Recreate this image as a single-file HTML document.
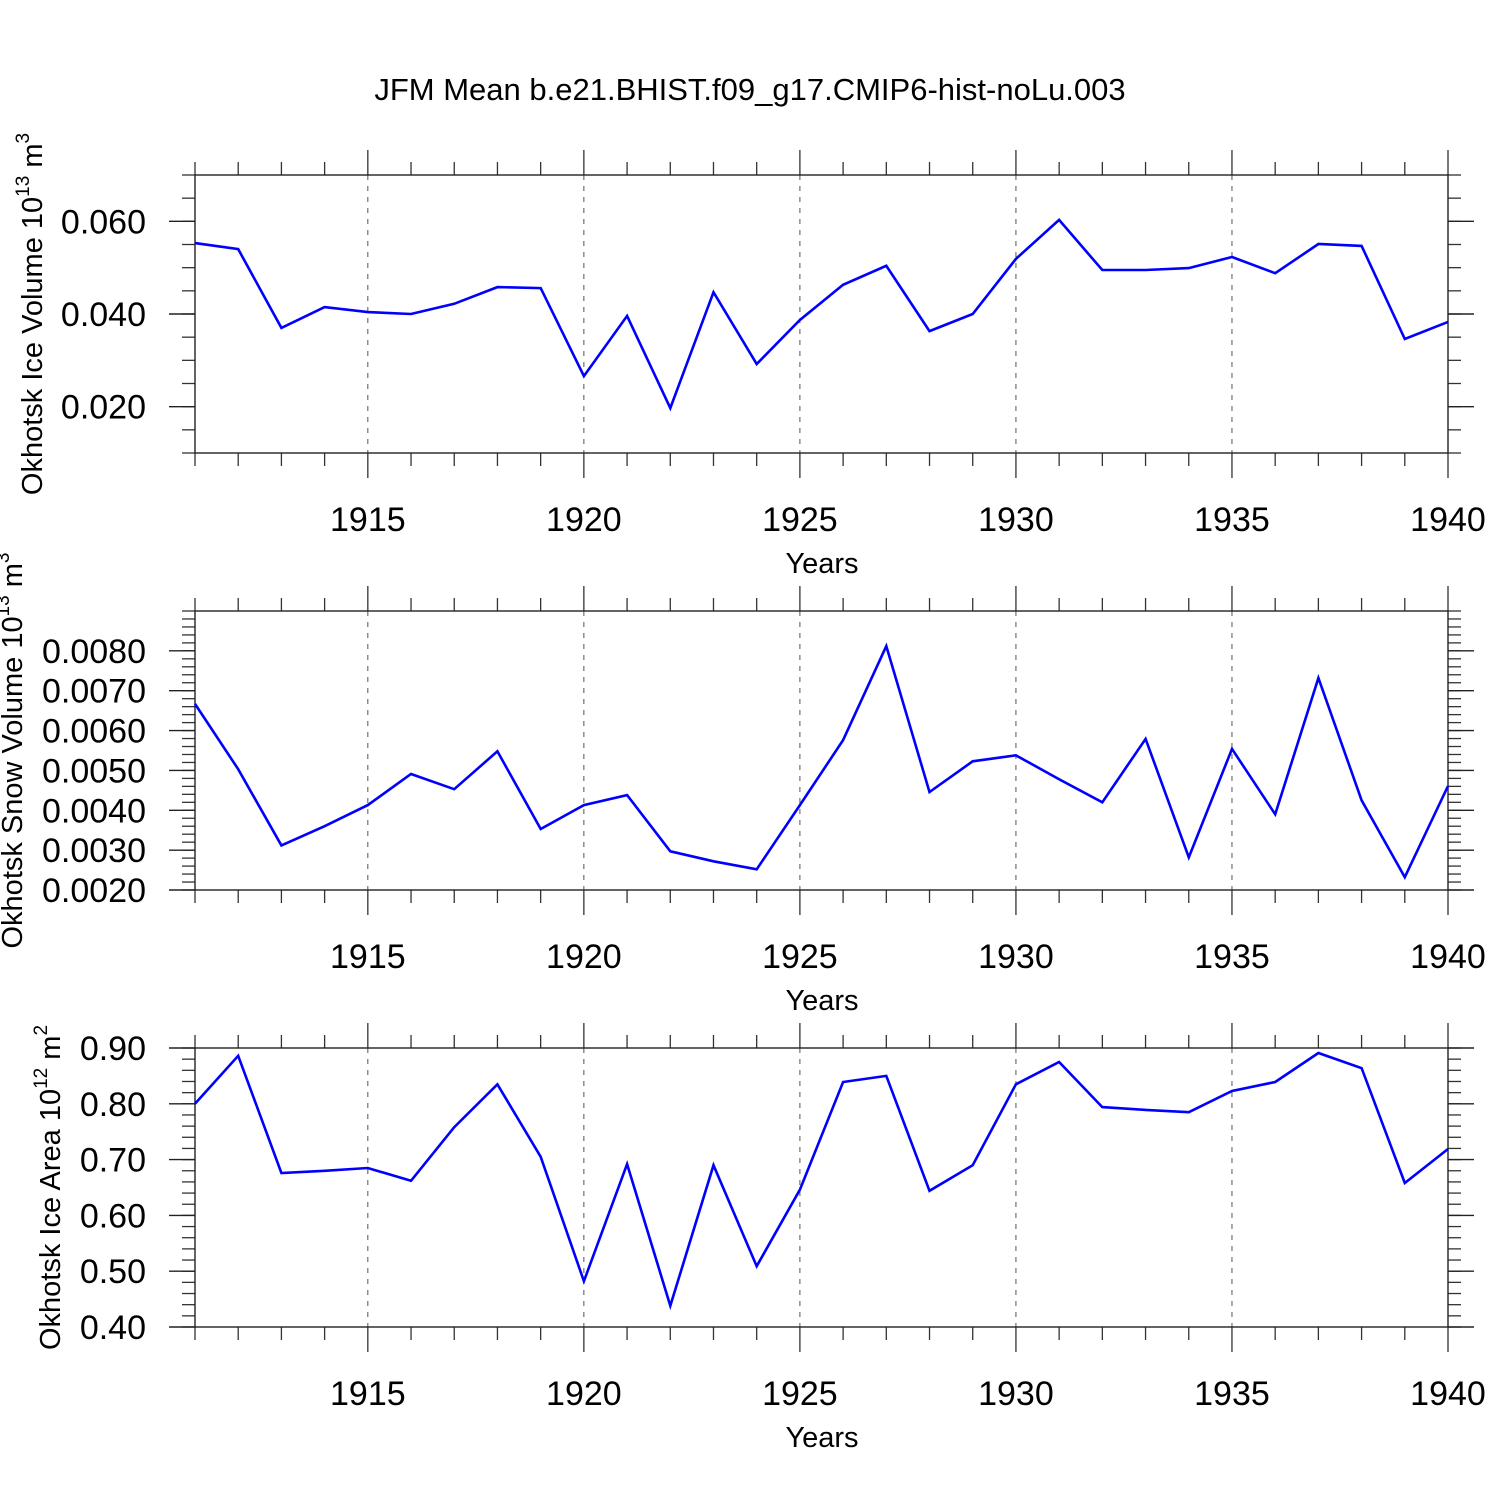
<!DOCTYPE html>
<html><head><meta charset="utf-8"><style>
html,body{margin:0;padding:0;background:#fff}
svg{display:block;font-family:"Liberation Sans",Arial,sans-serif}
</style></head><body>
<svg id="chart" width="1500" height="1500" viewBox="0 0 1500 1500" xmlns="http://www.w3.org/2000/svg">
<text x="750" y="100" font-size="31" text-anchor="middle">JFM Mean b.e21.BHIST.f09_g17.CMIP6-hist-noLu.003</text>
</svg>
<script>
const years = [1911,1912,1913,1914,1915,1916,1917,1918,1919,1920,1921,1922,1923,1924,1925,1926,1927,1928,1929,1930,1931,1932,1933,1934,1935,1936,1937,1938,1939,1940];
const iceVolume = [0.0553,0.0540,0.0370,0.0415,0.0404,0.0400,0.0422,0.0458,0.0456,0.0266,0.0396,0.0197,0.0447,0.0292,0.0387,0.0463,0.0504,0.0363,0.0400,0.0519,0.0603,0.0495,0.0495,0.0499,0.0523,0.0488,0.0551,0.0547,0.0346,0.0383];
const snowVolume = [0.00667,0.00503,0.00312,0.00360,0.00413,0.00491,0.00453,0.00548,0.00353,0.00413,0.00438,0.00297,0.00272,0.00252,0.00413,0.00576,0.00812,0.00446,0.00523,0.00538,0.00478,0.00420,0.00579,0.00282,0.00554,0.00390,0.00732,0.00425,0.00232,0.00461];
const iceArea = [0.800,0.886,0.676,0.680,0.685,0.662,0.758,0.835,0.705,0.482,0.692,0.438,0.690,0.509,0.646,0.839,0.850,0.644,0.690,0.835,0.875,0.794,0.789,0.785,0.823,0.839,0.891,0.864,0.658,0.719];
const xTickLabels = ["1915","1920","1925","1930","1935","1940"];
const iceVolTicks = ["0.020","0.040","0.060"];
const snowTicks = ["0.0020","0.0030","0.0040","0.0050","0.0060","0.0070","0.0080"];
const areaTicks = ["0.40","0.50","0.60","0.70","0.80","0.90"];

const NS="http://www.w3.org/2000/svg";
const svg=document.getElementById('chart');
function mk(tag,attrs,parent){const e=document.createElementNS(NS,tag);for(const k in attrs)e.setAttribute(k,attrs[k]);(parent||svg).appendChild(e);return e;}
const X0=195,X1=1448,Y_MIN=1911,Y_MAX=1940;
const xs=y=>X0+(y-Y_MIN)/(Y_MAX-Y_MIN)*(X1-X0);

function panel(id,top,bot,vmin,vmax,minorStep,ticks,data,titleLines,titleX){
  const g=mk('g',{});
  
  
  const ys=v=>bot-(v-vmin)/(vmax-vmin)*(bot-top);
  for(let y=1915;y<=1935;y+=5){
    const l=mk('line',{x1:xs(y),x2:xs(y),y1:top,y2:bot,stroke:'#555','stroke-width':1,'stroke-dasharray':'5,6'},g);
    
    
  }
  for(let y=Y_MIN;y<=Y_MAX;y++){
    const major=(y%5===0);const len=major?25:13;
    mk('line',{x1:xs(y),x2:xs(y),y1:top-len,y2:top,stroke:'#333','stroke-width':1.3},g);
    mk('line',{x1:xs(y),x2:xs(y),y1:bot,y2:bot+len,stroke:'#333','stroke-width':1.3},g);
  }
  xTickLabels.forEach(t=>{
    const tx=mk('text',{x:xs(+t),y:bot+78,'font-size':34,'text-anchor':'middle'},g);
    tx.textContent=t;
    
    
  });
  const xt=mk('text',{x:822,y:bot+120,'font-size':29,'text-anchor':'middle'},g);
  xt.textContent='Years';
  
  
  const n=Math.round((vmax-vmin)/minorStep);
  for(let i=0;i<=n;i++){
    const yy=ys(vmin+i*minorStep);
    mk('line',{x1:X0-13,x2:X0,y1:yy,y2:yy,stroke:'#333','stroke-width':1.3},g);
    mk('line',{x1:X1,x2:X1+13,y1:yy,y2:yy,stroke:'#333','stroke-width':1.3},g);
  }
  ticks.forEach(t=>{
    const yy=ys(+t);
    mk('line',{x1:X0-26,x2:X0,y1:yy,y2:yy,stroke:'#222','stroke-width':1.4},g);
    mk('line',{x1:X1,x2:X1+26,y1:yy,y2:yy,stroke:'#222','stroke-width':1.4},g);
    const tx=mk('text',{x:146,y:yy+12,'font-size':34,'text-anchor':'end'},g);
    tx.textContent=t;
    
    
  });
  const fr=mk('rect',{x:X0,y:top,width:X1-X0,height:bot-top,fill:'none',stroke:'#222','stroke-width':1.4},g);
  
  
  const pts=data.map((v,i)=>xs(years[i]).toFixed(1)+','+ys(v).toFixed(1)).join(' ');
  const pl=mk('polyline',{points:pts,fill:'none',stroke:'#0000ff','stroke-width':2.6,'stroke-linejoin':'miter'},g);
  
  
  const cy=(top+bot)/2;
  const yt=mk('text',{x:0,y:0,'font-size':29,'text-anchor':'middle',transform:`translate(${titleX},${cy}) rotate(-90)`},g);
  
  
  yt.innerHTML=titleLines;
}
panel('ice-volume',175,453,0.01,0.07,0.005,iceVolTicks,iceVolume,'Okhotsk Ice Volume 10<tspan dy="-13" font-size="19">13</tspan><tspan dy="13"> m</tspan><tspan dy="-13" font-size="19">3</tspan>',42);
panel('snow-volume',611,890,0.002,0.009,0.0002,snowTicks,snowVolume,'Okhotsk Snow Volume 10<tspan dy="-13" font-size="19">13</tspan><tspan dy="13"> m</tspan><tspan dy="-13" font-size="19">3</tspan>',22);
panel('ice-area',1048,1327,0.4,0.9,0.02,areaTicks,iceArea,'Okhotsk Ice Area 10<tspan dy="-13" font-size="19">12</tspan><tspan dy="13"> m</tspan><tspan dy="-13" font-size="19">2</tspan>',60);
</script>
</body></html>
